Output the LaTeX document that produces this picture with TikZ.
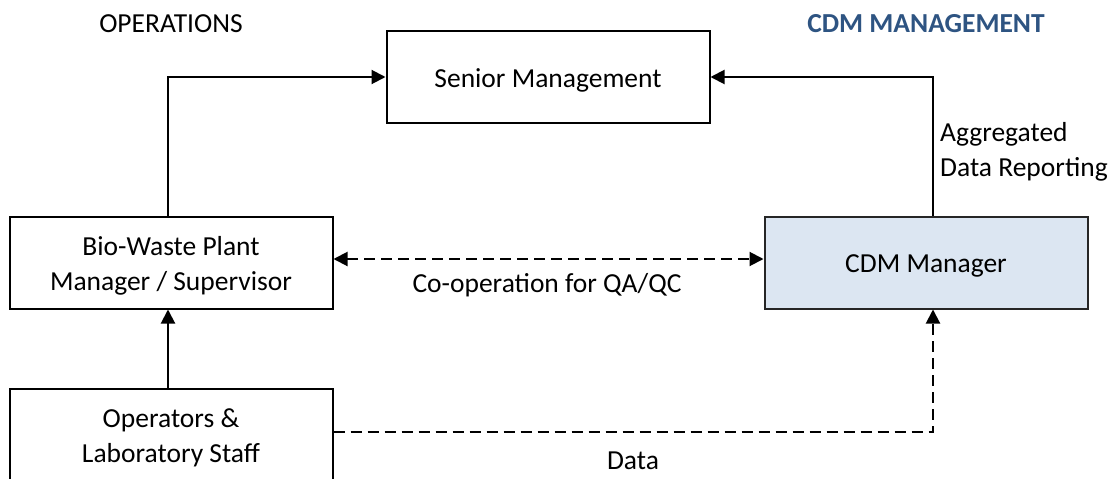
\documentclass[tikz,border=0pt]{standalone}
\usepackage{fontspec}
\setmainfont{Carlito}
\usetikzlibrary{arrows.meta}
\definecolor{hdrblue}{RGB}{46,84,130}
\definecolor{cdmfill}{RGB}{220,230,242}
\tikzset{
  box/.style={draw=black, line width=2pt, minimum width=323pt, minimum height=92pt, inner sep=0pt},
  lbl/.style={inner sep=0pt, font=\fontsize{27.5}{35}\selectfont},
  boxtxt/.style={lbl, align=center, yshift=-3pt},
  conn/.style={line width=2pt, -{Triangle[length=14pt,width=14pt]}},
  dconn/.style={conn, dash pattern=on 11pt off 6pt},
  ddconn/.style={line width=2pt, dash pattern=on 11pt off 6pt, {Triangle[length=14pt,width=14pt]}-{Triangle[length=14pt,width=14pt]}}
}
\begin{document}
\begin{tikzpicture}[x=1pt,y=-1pt]
\useasboundingbox (0,0) rectangle (1116,479);
\node[lbl] (ophdr) at (171,24) {OPERATIONS};
\node[lbl, text=hdrblue, font=\fontsize{27.5}{35}\selectfont\bfseries] (cdmhdr) at (926,24) {CDM MANAGEMENT};
\node[box, label={[boxtxt]center:Senior Management}] (senior) at (548,77) {};
\node[box, label={[boxtxt]center:{Bio-Waste Plant\\Manager / Supervisor}}] (bio) at (171,262.5) {};
\node[box, fill=cdmfill, draw=black!85, label={[boxtxt]center:CDM Manager}] (cdm) at (926,262.5) {};
\node[box, label={[boxtxt]center:{Operators \&\\Laboratory Staff}}] (ops) at (171,435) {};
\draw[conn] ([xshift=-3pt]bio.north) |- (senior.west);
\draw[conn] ([xshift=7pt]cdm.north) |- (senior.east);
\draw[conn] ([xshift=-3pt]ops.north) -- ([xshift=-3pt]bio.south);
\draw[ddconn] ([yshift=3.5pt]bio.east) -- ([yshift=3.5pt]cdm.west);
\draw[dconn] ([yshift=3pt]ops.east) -| ([xshift=7pt]cdm.south);
\node[lbl] (coop) at (547,285) {Co-operation for QA/QC};
\node[lbl] (data) at (633,461) {Data};
\node[lbl, anchor=west, align=left] (agg) at (940,152) {Aggregated\\Data Reporting};
\end{tikzpicture}
\end{document}
